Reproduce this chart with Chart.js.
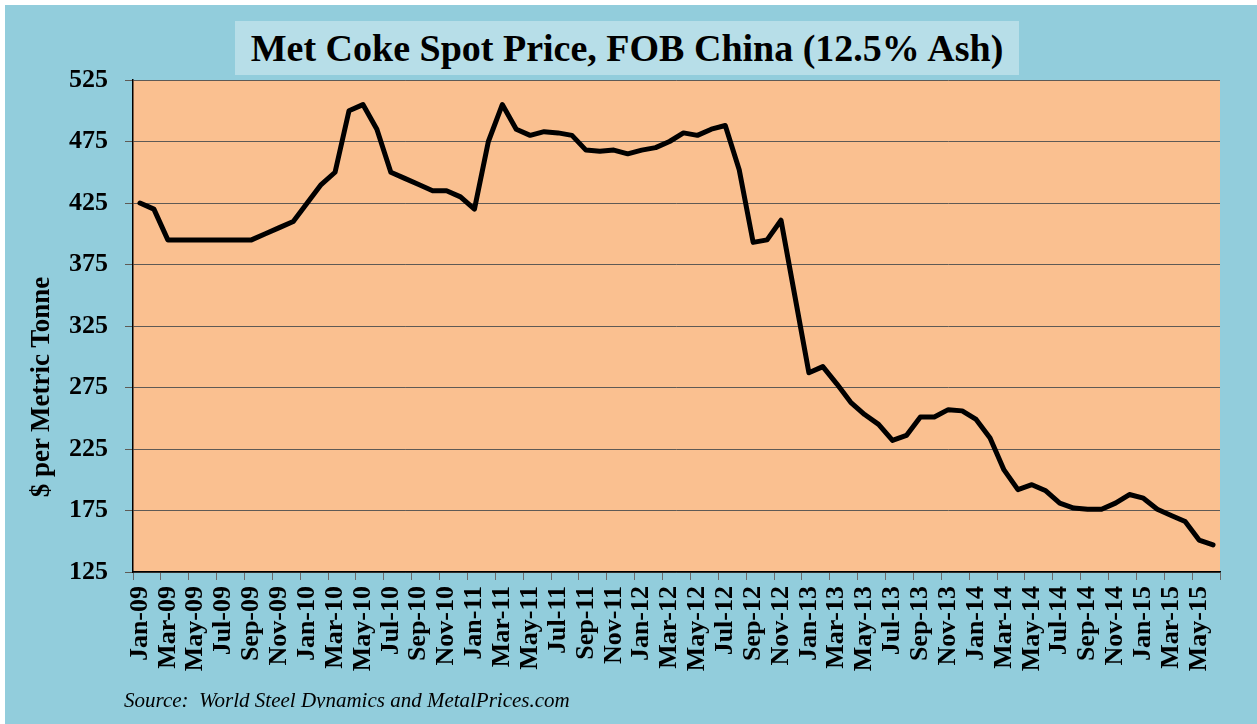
<!DOCTYPE html>
<html lang="en">
<head>
  <meta charset="UTF-8" />
  <title>Met Coke Spot Price, FOB China</title>
  <script src="https://cdn.jsdelivr.net/npm/chart.js"></script>
  <style>
    body { margin: 0; background: #ffffff; width: 1257px; height: 724px; overflow: hidden; position: relative; }
    #wrap { position: absolute; left: 5px; top: 5px; width: 1252px; height: 719px; background: #92CDDC; }
    #titleBox {
      position: absolute; left: 235px; top: 21px; width: 784px; height: 54px;
      background: #B7DEE8; display: flex; align-items: center; justify-content: center;
      font-family: "Liberation Serif", "DejaVu Serif", serif; font-weight: bold; font-size: 38px; color: #000;
    }
    #yTitle {
      position: absolute; left: -110px; top: 372px; width: 300px; height: 30px; line-height: 30px;
      text-align: center; transform: rotate(-90deg);
      font-family: "Liberation Serif", serif; font-weight: bold; font-size: 27px; color: #000;
    }
    #source {
      position: absolute; left: 124px; top: 690px; height: 18px; line-height: 21px; overflow: hidden;
      font-family: "Liberation Serif", serif; font-style: italic; font-size: 21px; color: #000; white-space: pre;
    }
  </style>
</head>
<body>
<div id="wrap">
  <canvas id="cokeChart"></canvas>
</div>
<div id="titleBox">Met Coke Spot Price, FOB China (12.5% Ash)</div>
<div id="yTitle">$ per Metric Tonne</div>
<div id="source">Source:  World Steel Dynamics and MetalPrices.com</div>

<script>
  // monthly labels, Jan-09 .. Jun-15
  const meses = [
    'Jan-09','Feb-09','Mar-09','Apr-09','May-09','Jun-09','Jul-09','Aug-09','Sep-09','Oct-09','Nov-09','Dec-09',
    'Jan-10','Feb-10','Mar-10','Apr-10','May-10','Jun-10','Jul-10','Aug-10','Sep-10','Oct-10','Nov-10','Dec-10',
    'Jan-11','Feb-11','Mar-11','Apr-11','May-11','Jun-11','Jul-11','Aug-11','Sep-11','Oct-11','Nov-11','Dec-11',
    'Jan-12','Feb-12','Mar-12','Apr-12','May-12','Jun-12','Jul-12','Aug-12','Sep-12','Oct-12','Nov-12','Dec-12',
    'Jan-13','Feb-13','Mar-13','Apr-13','May-13','Jun-13','Jul-13','Aug-13','Sep-13','Oct-13','Nov-13','Dec-13',
    'Jan-14','Feb-14','Mar-14','Apr-14','May-14','Jun-14','Jul-14','Aug-14','Sep-14','Oct-14','Nov-14','Dec-14',
    'Jan-15','Feb-15','Mar-15','Apr-15','May-15','Jun-15'
  ];

  // $ per metric tonne
  const precos = [
    425, 420, 395, 395, 395, 395, 395, 395, 395, 400, 405, 410,
    425, 440, 450, 500, 505, 485, 450, 445, 440, 435, 435, 430,
    420, 475, 505, 485, 480, 483, 482, 480, 468, 467, 468, 465,
    468, 470, 475, 482, 480, 485, 488, 452, 393, 395, 411, 349,
    287, 292, 278, 263, 253, 245, 232, 236, 251, 251, 257, 256,
    249, 234, 208, 192, 196, 191, 181, 177, 176, 176, 181, 188,
    185, 176, 171, 166, 151, 147
  ];

  const yMin = 125;
  const yMax = 525;
  const yStep = 50;

  const fundoPlot = {
    id: 'fundoPlot',
    beforeDraw(chart) {
      const { ctx, chartArea } = chart;
      ctx.save();
      ctx.fillStyle = '#FAC090';
      ctx.fillRect(chartArea.left, chartArea.top, chartArea.right - chartArea.left, chartArea.bottom - chartArea.top);
      ctx.restore();
    }
  };

  const fonte = { family: '"Liberation Serif", serif', weight: 'bold', size: 26 };

  const config = {
    type: 'line',
    data: {
      labels: meses,
      datasets: [{
        data: precos,
        borderColor: '#000000',
        borderWidth: 5,
        pointRadius: 0,
        tension: 0,
        borderJoinStyle: 'round',
        borderCapStyle: 'round'
      }]
    },
    options: {
      responsive: true,
      maintainAspectRatio: false,
      animation: false,
      layout: { padding: { top: 75, right: 37, left: 0, bottom: 0 } },
      plugins: { legend: { display: false }, tooltip: { enabled: false }, title: { display: false } },
      scales: {
        x: {
          type: 'category',
          offset: true,
          afterFit: s => { s.height = 152; },
          border: { color: '#000000', width: 1.5 },
          grid: {
            offset: true,
            drawOnChartArea: false,
            drawTicks: true,
            tickLength: 8,
            color: c => (c.index === undefined || c.index % 2 === 0) ? '#6a6a6a' : 'rgba(0,0,0,0)'
          },
          ticks: {
            autoSkip: false,
            minRotation: 90,
            maxRotation: 90,
            padding: 6,
            color: '#000000',
            font: fonte,
            callback: function (v, i) { return i % 2 === 0 ? this.getLabelForValue(v) : ''; }
          }
        },
        y: {
          min: yMin,
          max: yMax,
          afterFit: s => { s.width = 128; },
          border: { color: '#000000', width: 1.5 },
          grid: { color: '#5e5a55', lineWidth: 1, tickLength: 8 },
          ticks: { stepSize: yStep, padding: 17, color: '#000000', font: fonte }
        }
      }
    },
    plugins: [fundoPlot]
  };

  const ctx = document.getElementById('cokeChart').getContext('2d');
  new Chart(ctx, config);
</script>
</body>
</html>
